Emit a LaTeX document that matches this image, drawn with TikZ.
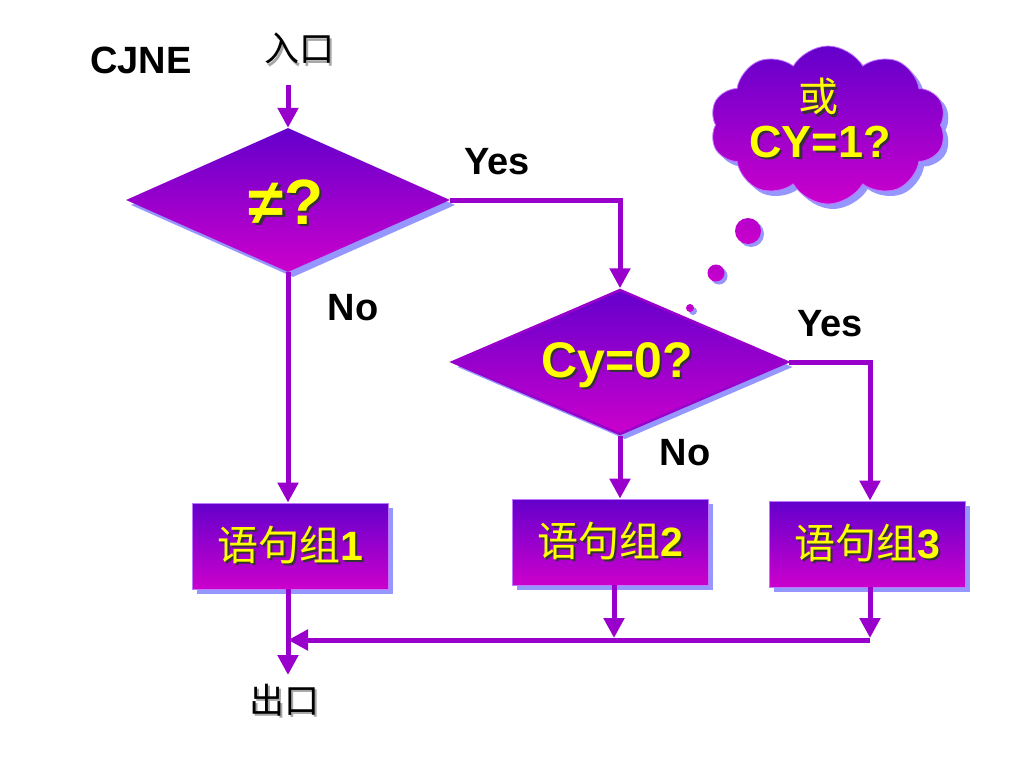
\documentclass[tikz,border=0pt]{standalone}
\usepackage{fontspec}
\setmainfont{Liberation Sans}
\newfontfamily\cjk{Noto Sans CJK SC}
\usetikzlibrary{shapes.geometric,shapes.symbols,shadows,arrows.meta}
\definecolor{linec}{RGB}{153,0,204}
\definecolor{topc}{RGB}{100,0,204}
\definecolor{botc}{RGB}{204,0,204}
\definecolor{shadblue}{RGB}{150,150,255}
\definecolor{txtyellow}{RGB}{255,255,0}
\definecolor{edgec}{RGB}{190,120,255}
\newcommand\shad[2][black!80]{\makebox[0pt][l]{\hspace*{2.5pt}\raisebox{-2.5pt}{\color{#1}#2}}#2}
\tikzset{
  grad/.style={top color=topc, bottom color=botc, inner sep=0pt,
    drop shadow={shadow xshift=5pt, shadow yshift=-5pt, fill=shadblue, opacity=1}},
  dia/.style={grad, diamond},
  boxnode/.style={grad, rectangle, draw=edgec, line width=0.8pt,
    minimum width=196pt, minimum height=86pt, text=txtyellow,
    font=\fontsize{41}{43}\selectfont},
  bubble/.style={circle, inner sep=0pt, top color=botc!80!topc, bottom color=botc,
    drop shadow={shadow xshift=3pt, shadow yshift=-3pt, fill=shadblue, opacity=1}},
  conn/.style={draw=linec, line width=5pt, -{Triangle[length=20pt,width=20pt]}},
  blab/.style={font=\fontsize{38}{40}\selectfont\bfseries, text=black, inner sep=0pt},
  cjklab/.style={font=\cjk\fontsize{35}{38}\selectfont, text=black, inner sep=0pt},
  ytxt/.style={text=txtyellow, inner sep=0pt}
}
\begin{document}
\begin{tikzpicture}[x=1pt,y=-1pt]
\useasboundingbox[fill=white] (0,0) rectangle (1024,768);

% labels
\node[blab] (cjne) at (141,60) {CJNE};
\node[cjklab] (entry) at (299,50) {\shad[black!35]{入口}};
\node[cjklab] (exit) at (284,701) {\shad[black!35]{出口}};

% decision 1
\node[dia, minimum width=324pt, minimum height=144pt] (d1) at (288,200) {};
\node[ytxt, font=\fontsize{64}{68}\selectfont\bfseries] (t1) at (286,203) {\shad{≠?}};

% decision 2
\node[dia, draw=linec, line width=2.5pt, minimum width=336pt, minimum height=145pt] (d2) at (620,362) {};
\node[ytxt, font=\fontsize{50}{54}\selectfont\bfseries] (t2) at (617,366) {\shad{Cy=0?}};

% boxes
\node[boxnode] (b1) at (290,546) {\shad{{\cjk 语句组}{\bfseries 1}}};
\node[boxnode] (b2) at (610,542) {\shad{{\cjk 语句组}{\bfseries 2}}};
\node[boxnode] (b3) at (867,544) {\shad{{\cjk 语句组}{\bfseries 3}}};

% cloud
\node[cloud, cloud puffs=10, cloud puff arc=120, aspect=1.5, grad, draw=edgec, line width=0.8pt,
      minimum width=236pt, minimum height=158pt] (cl) at (828,125) {};
\node[ytxt, font=\cjk\fontsize{40}{42}\selectfont] (t3a) at (818,98) {\shad{或}};
\node[ytxt, font=\fontsize{45}{48}\selectfont\bfseries] (t3b) at (820,143) {\shad{CY=1?}};
\node[bubble, minimum size=26pt] (bb1) at (748,231) {};
\node[bubble, minimum size=17pt] (bb2) at (716,273) {};
\node[bubble, minimum size=8pt] (bb3) at (690,308) {};

% branch labels
\node[blab] (yes1) at (497,162) {Yes};
\node[blab] (no1) at (353,308) {No};
\node[blab] (yes2) at (830,324) {Yes};
\node[blab] (no2) at (685,453) {No};

% connectors
\coordinate (in) at (288,85);
\draw[conn] (in) -- (d1.north);
\draw[conn] (d1.east) -| (d2.north);
\draw[conn] (d1.south) -- (d1.south |- b1.north);
\draw[conn] (d2.south) -- (d2.south |- b2.north);
\draw[conn] (d2.east) -| ([xshift=3pt]b3.north);

\coordinate (m1) at (288,640);
\coordinate (m2) at (614,638);
\coordinate (m3) at (870,638);
\coordinate (m3b) at (870,640);
\coordinate (out) at (288,675);
\draw[conn] ([xshift=-2pt]b1.south) -- (out);
\draw[conn] (m3b) -- (m1);
\draw[conn] (b2.south -| m2) -- (m2);
\draw[conn] (b3.south -| m3) -- (m3);
\end{tikzpicture}
\end{document}
